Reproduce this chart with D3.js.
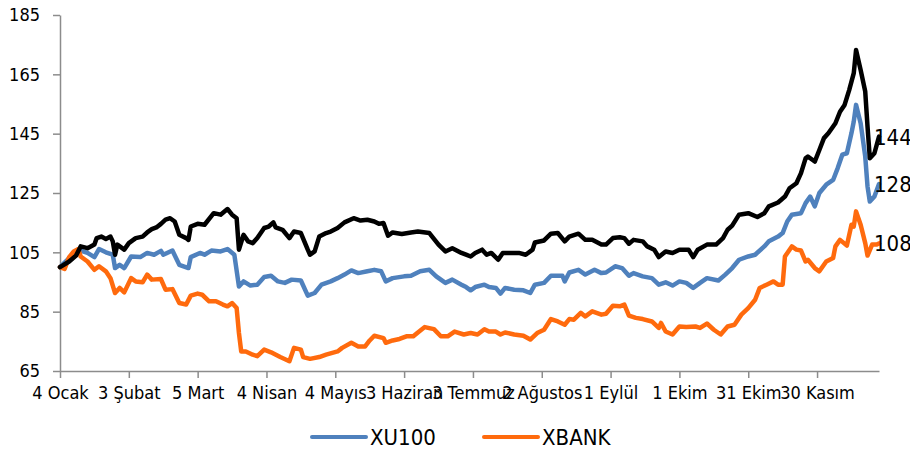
<!DOCTYPE html>
<html>
<head>
<meta charset="utf-8">
<script src="https://cdn.jsdelivr.net/npm/d3@7"></script>
<style>
  body { margin: 0; background: #fff; }
  text { font-family: "DejaVu Sans Condensed", "DejaVu Sans", sans-serif; font-stretch: condensed; fill: #000; }
</style>
</head>
<body>
<div id="chart"></div>
<script>
// Data: [days since 4 Ocak, index value]
const XU100 = [
  [0,100],[4,103.1],[7,105.0],[9,105.6],[12,104.8],[15,103.4],[17,106.1],[20,105.0],[23,104.2],[24,99.7],
  [26,100.8],[28,99.7],[31,103.6],[35,103.4],[38,104.8],[41,104.2],[44,105.5],[45,104.2],[49,105.6],[52,100.8],
  [56,99.7],[57,103.4],[61,104.8],[63,104.2],[66,105.6],[70,105.3],[73,106.1],[76,104.2],[78,93.5],[80,95.2],
  [83,93.8],[86,94.1],[89,96.7],[92,97.1],[95,95.2],[98,94.7],[101,95.8],[105,95.5],[108,90.4],[111,91.3],
  [114,94.1],[118,95.2],[121,96.3],[124,97.5],[127,98.9],[130,98.0],[134,98.6],[137,99.1],[140,98.6],[142,95.2],
  [145,96.3],[150,96.9],[153,97.1],[157,98.6],[161,99.1],[164,96.9],[168,94.7],[171,95.8],[175,94.1],[177,93.3],
  [179,92.2],[181,93.3],[185,94.1],[187,93.3],[190,93.0],[192,91.1],[194,93.0],[198,92.4],[202,92.2],[205,91.3],
  [207,94.1],[211,94.7],[214,97.1],[219,97.1],[220,95.2],[222,98.2],[226,99.1],[229,97.5],[233,99.1],[236,98.0],
  [238,98.2],[242,100.3],[245,99.7],[248,97.1],[250,98.0],[254,96.9],[258,96.3],[261,94.1],[264,94.9],[267,93.8],
  [270,95.2],[273,94.7],[276,93.0],[279,94.7],[282,96.3],[287,95.5],[290,97.5],[293,99.7],[296,102.5],[300,103.6],
  [303,104.2],[307,107.0],[309,108.7],[313,110.3],[315,111.5],[317,115.4],[319,117.7],[323,118.2],[325,121.6],[327,123.8],
  [329,120.5],[331,125.0],[334,127.8],[337,129.4],[339,133.4],[341,137.9],[343,138.4],[345,145.2],[346,149.1],[347,154.7],
  [349,148.5],[351,137.3],[352,127.2],[353,122.1],[355,123.8],[357,128]
];

const XBANK = [
  [0,100],[2,99.4],[4,103.4],[6,105.3],[8,106.1],[9,103.6],[12,101.9],[15,99.1],[17,100.3],[20,98.6],
  [22,96.3],[24,91.3],[26,93.0],[28,91.5],[31,96.3],[33,95.2],[36,94.9],[38,97.5],[40,95.8],[44,96.0],
  [46,92.4],[49,92.6],[52,87.9],[55,87.4],[57,90.4],[60,91.1],[62,90.7],[65,88.5],[68,88.5],[71,87.4],
  [73,86.8],[75,87.9],[77,86.2],[78,77.8],[79,71.6],[81,71.6],[84,70.5],[86,70.0],[89,72.2],[92,71.3],
  [96,69.7],[100,68.3],[102,72.8],[105,72.2],[106,69.7],[109,69.1],[113,69.7],[116,70.5],[121,71.6],[123,72.8],
  [127,74.5],[130,73.3],[133,73.3],[135,75.3],[137,76.9],[141,76.1],[142,74.5],[145,75.3],[148,75.8],[151,76.7],
  [154,76.7],[156,78.0],[159,79.8],[163,79.1],[166,76.7],[169,76.7],[172,78.3],[176,77.3],[179,77.8],[182,77.3],
  [185,79.1],[187,78.3],[190,78.3],[192,77.3],[194,78.0],[198,77.3],[202,76.9],[205,75.6],[208,77.8],[211,78.9],
  [214,82.5],[217,81.7],[220,80.6],[222,82.5],[224,82.3],[227,84.6],[229,83.4],[232,85.1],[236,84.0],[238,84.3],
  [241,87.0],[244,86.8],[246,87.4],[248,83.7],[251,82.9],[254,82.5],[258,81.7],[261,79.5],[262,81.2],[264,78.3],
  [267,77.3],[270,80.0],[273,79.8],[277,80.0],[279,79.5],[282,81.0],[285,78.9],[288,77.3],[291,80.0],[294,80.6],
  [297,84.0],[300,86.2],[303,89.0],[305,93.0],[308,94.1],[311,95.2],[313,94.1],[315,94.1],[316,103.6],[319,107.0],
  [321,105.9],[323,105.6],[325,101.9],[326,102.5],[329,99.7],[331,98.6],[334,101.9],[337,103.1],[338,107.0],[340,109.2],
  [343,107.3],[345,114.3],[346,113.7],[347,118.8],[349,114.3],[351,108.1],[352,103.9],[354,107.6],[356,107.6],[357,108]
];

// third series (black, no legend entry)
const OTHER = [
  [0,100],[4,101.9],[7,103.9],[9,107.0],[12,106.4],[15,107.6],[16,109.8],[18,110.3],[20,109.5],[22,110.3],
  [23,108.7],[24,104.2],[25,107.6],[28,105.9],[30,108.1],[33,109.8],[36,110.3],[38,111.7],[40,112.8],[42,113.4],
  [44,114.6],[46,116.0],[48,116.5],[50,115.4],[52,110.9],[55,109.8],[56,109.2],[57,113.7],[60,114.6],[63,114.3],
  [67,118.2],[70,117.7],[73,119.6],[75,117.7],[77,116.5],[78,105.9],[80,110.9],[82,108.7],[84,108.1],[86,109.8],
  [89,113.2],[91,113.7],[93,115.1],[94,113.4],[97,112.6],[100,109.8],[102,112.0],[105,111.5],[108,105.9],[109,104.2],
  [111,105.3],[113,110.3],[116,111.5],[118,112.0],[121,113.2],[124,115.1],[128,116.5],[131,115.7],[134,116.0],[137,115.4],
  [139,114.6],[141,114.9],[143,110.6],[145,111.7],[149,111.2],[153,111.7],[156,112.0],[161,111.5],[165,107.6],[168,105.3],
  [171,106.4],[175,104.8],[177,104.2],[179,103.6],[181,104.8],[184,105.9],[186,104.2],[188,104.8],[191,102.5],[193,104.8],
  [197,104.8],[200,104.8],[203,104.2],[206,105.9],[207,108.3],[211,109.0],[214,111.3],[217,111.5],[220,108.7],[222,110.3],
  [226,111.3],[229,109.2],[232,109.2],[236,107.6],[238,107.6],[241,109.8],[244,110.1],[246,109.8],[248,107.9],[250,109.2],
  [254,108.7],[256,107.0],[259,105.9],[261,103.4],[264,105.3],[267,104.8],[270,105.9],[274,105.9],[276,103.4],[278,105.9],
  [282,107.6],[286,107.6],[289,109.8],[291,112.6],[293,114.0],[296,117.7],[300,118.2],[304,116.9],[307,118.2],[309,120.5],
  [313,121.8],[316,123.8],[318,126.6],[321,128.3],[323,131.7],[325,136.7],[326,137.3],[329,135.6],[331,139.5],[333,143.5],
  [335,145.2],[338,148.5],[340,152.4],[342,154.7],[344,159.7],[346,165.4],[347,173.2],[349,166.5],[351,159.2],[352,147.4],
  [353,136.7],[355,138.4],[357,144]
];

const tickDays = [0, 30, 60, 90, 120, 150, 180, 210, 240, 270, 300, 330];
const tickLabels = ["4 Ocak", "3 Şubat", "5 Mart", "4 Nisan", "4 Mayıs", "3 Haziran",
  "3 Temmuz", "2 Ağustos", "1 Eylül", "1 Ekim", "31 Ekim", "30 Kasım"];
const yTicks = [65, 85, 105, 125, 145, 165, 185];
const lastDay = 357;

const start = new Date(2010, 0, 4);
const toDate = d => d3.timeDay.offset(start, d);

const svg = d3.select("#chart")
  .append("svg")
  .attr("width", 910)
  .attr("height", 451);

const x = d3.scaleTime()
  .domain([start, toDate(lastDay)])
  .range([60, 879]);

const y = d3.scaleLinear()
  .domain([65, 185])
  .range([371, 15]);

// Y axis
const yAxis = svg.append("g")
  .attr("transform", "translate(60,0)")
  .call(d3.axisLeft(y).tickValues(yTicks).tickSizeInner(7).tickSizeOuter(0).tickPadding(13));

// X axis
const xAxis = svg.append("g")
  .attr("transform", "translate(0,371)")
  .call(d3.axisBottom(x)
    .tickValues(tickDays.map(toDate))
    .tickFormat((d, i) => tickLabels[i])
    .tickSizeInner(7).tickSizeOuter(0).tickPadding(8));

[yAxis, xAxis].forEach(g => {
  g.select(".domain").attr("stroke", "#8c8c8c").attr("stroke-width", 1.5);
  g.selectAll(".tick line").attr("stroke", "#8c8c8c").attr("stroke-width", 1.5);
  g.selectAll("text").attr("font-size", 18).attr("font-family", null).attr("fill", "#000");
});

// Lines
const line = d3.line()
  .x(d => x(toDate(d[0])))
  .y(d => y(d[1]));

const series = [
  { data: XU100, color: "#4f81bd" },
  { data: XBANK, color: "#ff6a0d" },
  { data: OTHER, color: "#000000" }
];

svg.append("g")
  .selectAll("path")
  .data(series)
  .join("path")
  .attr("fill", "none")
  .attr("stroke", d => d.color)
  .attr("stroke-width", 4.5)
  .attr("stroke-linejoin", "round")
  .attr("stroke-linecap", "round")
  .attr("d", d => line(d.data));

// End labels
svg.append("g")
  .selectAll("text")
  .data(series)
  .join("text")
  .attr("x", d => x(toDate(d.data[d.data.length - 1][0])) - 5)
  .attr("y", d => y(d.data[d.data.length - 1][1]))
  .attr("dy", "0.36em")
  .attr("font-size", 22)
  .text(d => Math.round(d.data[d.data.length - 1][1]));

// Legend
const legend = [
  { name: "XU100", color: "#4f81bd", x: 312 },
  { name: "XBANK", color: "#ff6a0d", x: 484 }
];

const lg = svg.append("g")
  .selectAll("g")
  .data(legend)
  .join("g")
  .attr("transform", d => `translate(${d.x},437)`);

lg.append("line")
  .attr("x1", 0).attr("x2", 54)
  .attr("stroke", d => d.color)
  .attr("stroke-width", 4)
  .attr("stroke-linecap", "round");

lg.append("text")
  .attr("x", 58)
  .attr("dy", "0.36em")
  .attr("font-size", 22)
  .text(d => d.name);
</script>
</body>
</html>
